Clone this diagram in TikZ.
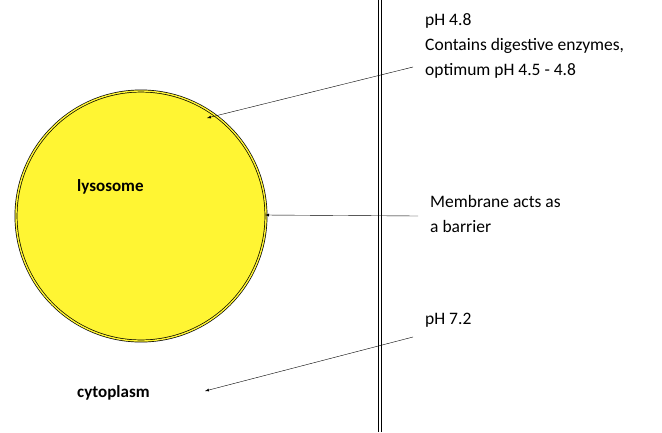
\documentclass[tikz,border=0pt]{standalone}
\usepackage{fontspec}
\setmainfont{Carlito}
\begin{document}
\begin{tikzpicture}[x=1pt,y=-1pt,
    note/.style={anchor=north west, align=left, inner sep=0pt, font=\fontsize{17.5}{25}\selectfont},
    tag/.style={anchor=west, inner sep=0pt, font=\fontsize{17}{18}\selectfont\bfseries},
    pointer/.style={-latex, thin}]
\useasboundingbox (0,0) rectangle (662,432);
% lysosome and membrane
\draw[double=yellow!80!white, double distance=1.4pt, fill=yellow!80!white, line width=0.7pt] (141,216) circle[radius=125];
\draw[double, double distance=2.5pt, line width=0.7pt] (380,0) -- (380,432);
\coordinate (lysofill) at (207,118);
\coordinate (lysoedge) at (265,215);
\coordinate (cyto) at (205,391);
% labels
\node[tag] (lyso) at (77,187) {lysosome};
\node[tag] (cytolabel) at (77,393) {cytoplasm};
\node[note] (acid) at (425,13) {pH 4.8\\Contains digestive enzymes,\\optimum pH 4.5 - 4.8};
\node[note] (barrier) at (430,195) {Membrane acts as\\a barrier};
\node[note] (neutral) at (425,313) {pH 7.2};
% pointers
\draw[pointer] (413,67) -- (lysofill);
\draw[pointer] (418,216) -- (lysoedge);
\draw[pointer] (413,337) -- (cyto);
\end{tikzpicture}
\end{document}
